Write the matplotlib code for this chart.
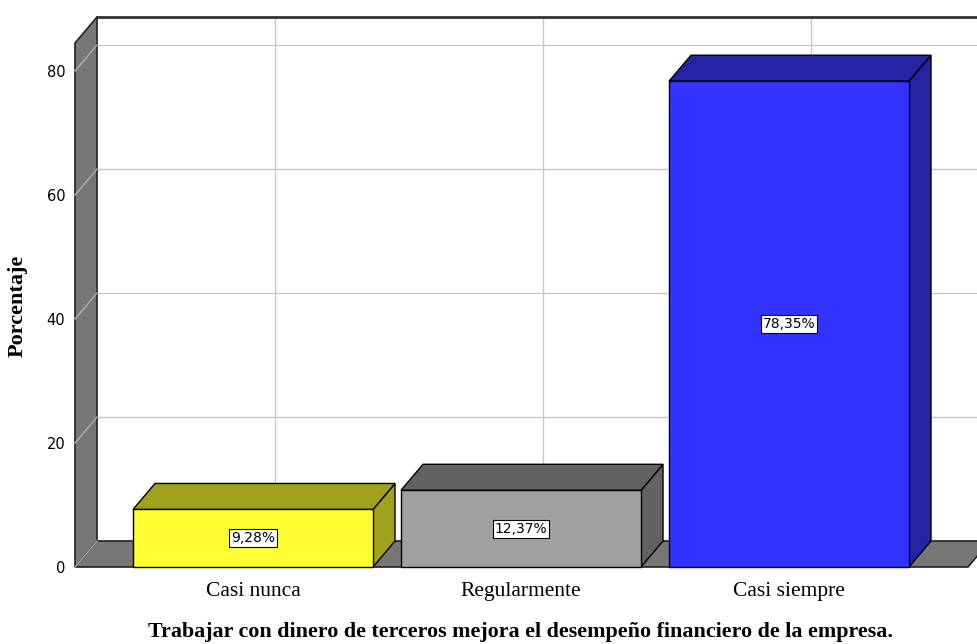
import numpy as np
import matplotlib.pyplot as plt
from matplotlib.patches import Polygon

# datos del grafico
categorias = ['Casi nunca', 'Regularmente', 'Casi siempre']
porcentajes = [9.28, 12.37, 78.35]
etiquetas = ['9,28%', '12,37%', '78,35%']
y_ticks = [0, 20, 40, 60, 80]
titulo = 'Trabajar con dinero de terceros mejora el desempeño financiero de la empresa.'
eje_y = 'Porcentaje'

# colores estilo SPSS (frente / lados)
colores_frente = ['#ffff33', '#a0a0a0', '#3333ff']
colores_lado = ['#a1a11e', '#626262', '#2323a3']

# geometria (en unidades de datos)
W, H = 977, 644
px_x = 268.0      # pixeles por categoria
px_y = 6.2        # pixeles por punto porcentual
DX = 22 / px_x    # profundidad 3D
DY = 26 / px_y
x_izq = (75 - 253) / px_x
x_der = (977 - 253) / px_x
x_piso = (968 - 253) / px_x
y_top = (567 - 43) / px_y
ancho = 240 / px_x

fig = plt.figure(figsize=(W / 100, H / 100), dpi=100)
ax = fig.add_axes([75 / W, (H - 567) / H, (W - 75) / W, (567 - 43) / H])
ax.set_xlim(x_izq, x_der)
ax.set_ylim(0, y_top)
for s in ax.spines.values():
    s.set_visible(False)

grid_c = '#c8c8c8'
# rejilla del plano de fondo
for t in y_ticks[1:]:
    ax.plot([x_izq + DX, x_der + 0.2], [t + DY, t + DY], color=grid_c, lw=1, zorder=1, clip_on=False)
for i in range(len(categorias)):
    ax.plot([i + DX, i + DX], [DY, y_top + DY], color=grid_c, lw=1, zorder=1, clip_on=False)
# borde superior del fondo
ax.plot([x_izq + DX, x_der + 0.2], [y_top + DY, y_top + DY], color='#333333', lw=2, zorder=2, clip_on=False)

# pared izquierda
pared = Polygon([(x_izq, 0), (x_izq, y_top), (x_izq + DX, y_top + DY), (x_izq + DX, DY)],
                closed=True, facecolor='#777777', edgecolor='#222222', lw=1.2, zorder=2, clip_on=False)
ax.add_patch(pared)
for t in y_ticks:
    ax.plot([x_izq, x_izq + DX], [t, t + DY], color='#b0b0b0', lw=1, zorder=3, clip_on=False)

# piso
piso = Polygon([(x_izq, 0), (x_piso, 0), (x_piso + DX, DY), (x_izq + DX, DY)],
               closed=True, facecolor='#777777', edgecolor='#222222', lw=1.2, zorder=2, clip_on=False)
ax.add_patch(piso)

# barras 3D
for i, v in enumerate(porcentajes):
    x0, x1 = i - ancho / 2, i + ancho / 2
    z = 5 + i
    lado = Polygon([(x1, 0), (x1 + DX, DY), (x1 + DX, v + DY), (x1, v)], closed=True,
                   facecolor=colores_lado[i], edgecolor='black', lw=1, zorder=z, clip_on=False)
    tapa = Polygon([(x0, v), (x1, v), (x1 + DX, v + DY), (x0 + DX, v + DY)], closed=True,
                   facecolor=colores_lado[i], edgecolor='black', lw=1, zorder=z, clip_on=False)
    frente = Polygon([(x0, 0), (x1, 0), (x1, v), (x0, v)], closed=True,
                     facecolor=colores_frente[i], edgecolor='black', lw=1, zorder=z, clip_on=False)
    for p in (lado, tapa, frente):
        ax.add_patch(p)
    ax.text(i, v / 2, etiquetas[i], ha='center', va='center', fontsize=10,
            family='DejaVu Sans', zorder=z + 0.5,
            bbox=dict(boxstyle='square,pad=0.15', facecolor='white', edgecolor='black', lw=0.8))

# ejes
ax.set_yticks(y_ticks)
ax.set_yticklabels([str(t) for t in y_ticks], fontsize=10.5, family='DejaVu Sans')
ax.set_xticks(range(len(categorias)))
ax.set_xticklabels(categorias, fontsize=15.5, family='Liberation Serif')
ax.tick_params(axis='y', length=0, pad=7)
ax.tick_params(axis='x', length=0, pad=11)

fig.text(520 / W, 1 - 632 / H, titulo, ha='center', va='center', fontsize=15.8,
         fontweight='bold', family='Liberation Serif')
fig.text(18 / W, 1 - 306 / H, eje_y, ha='center', va='center', rotation=90, fontsize=16,
         fontweight='bold', family='Liberation Serif')

fig.savefig('out.png', dpi=100)
